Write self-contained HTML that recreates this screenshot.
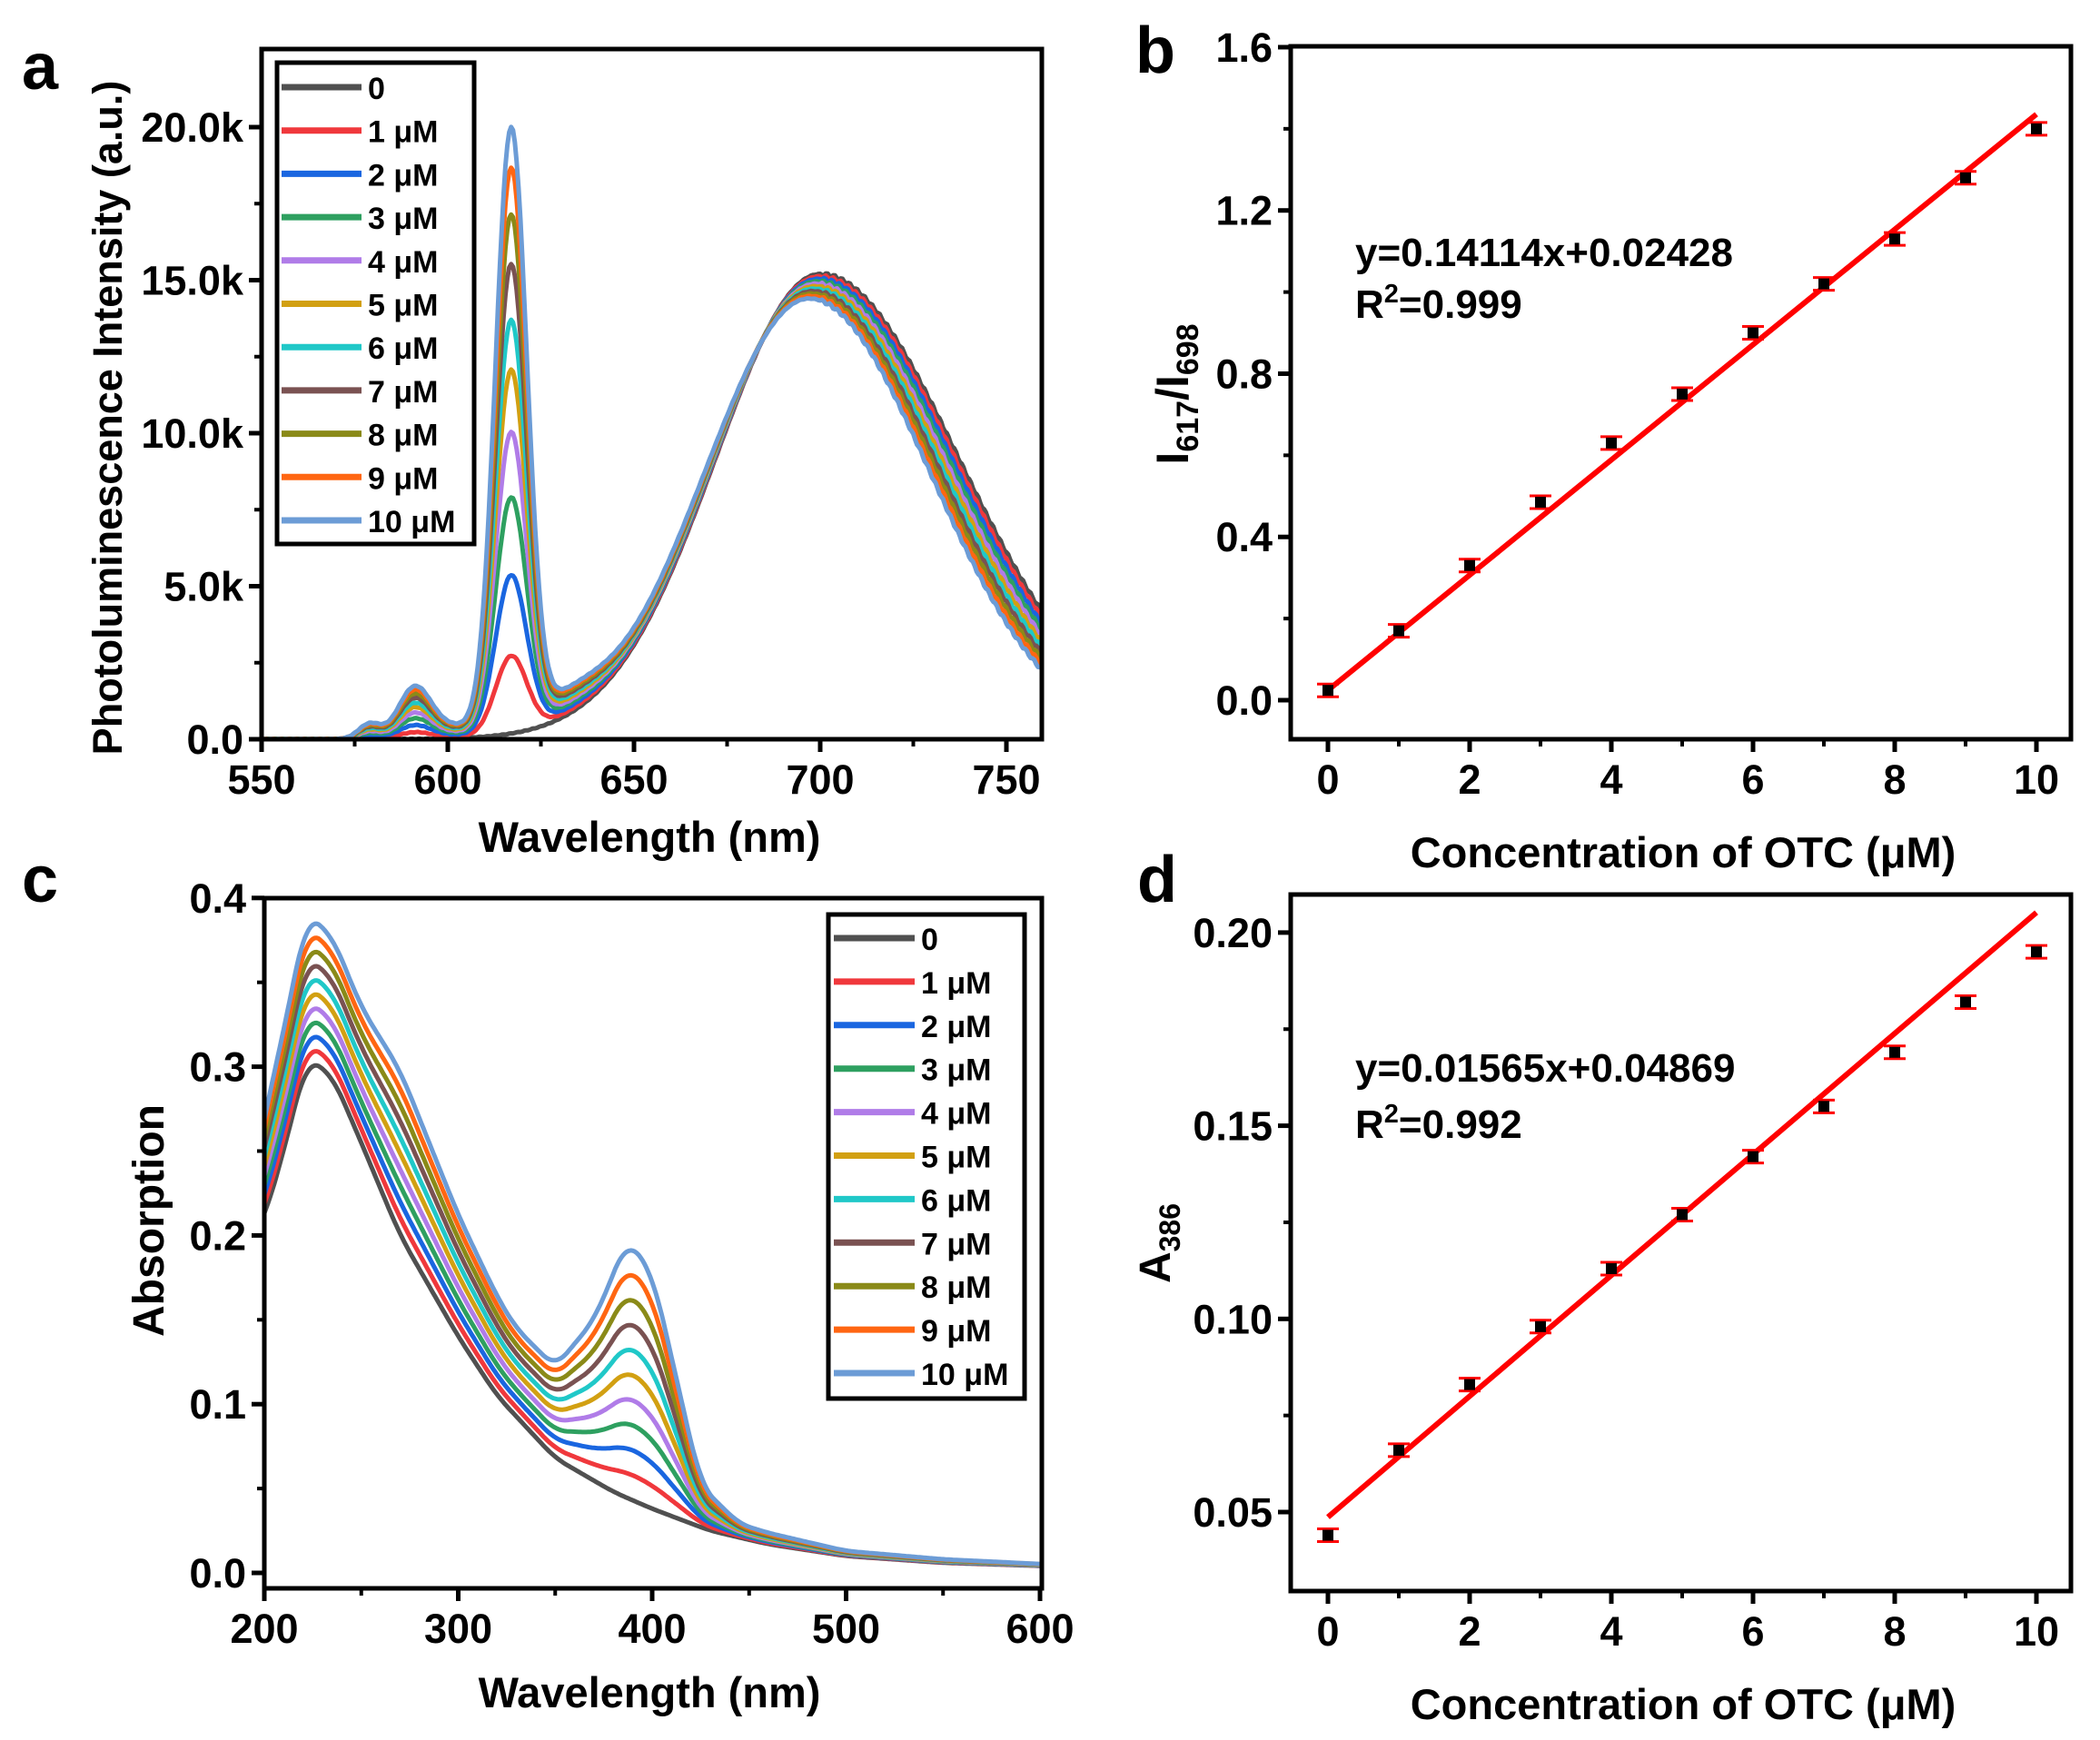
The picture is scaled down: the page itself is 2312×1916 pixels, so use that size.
<!DOCTYPE html>
<html><head><meta charset="utf-8"><style>
html,body{margin:0;padding:0;background:#fff}
svg{display:block}
text{font-family:"Liberation Sans",Arial,sans-serif;font-weight:bold;fill:#000}
</style></head><body>
<svg id="s" xmlns="http://www.w3.org/2000/svg" width="2312" height="1916" viewBox="0 0 2312 1916">
<rect width="2312" height="1916" fill="#fff"/>
<text x="24" y="98" font-size="72">a</text>
<text x="1250" y="80" font-size="72">b</text>
<text x="24" y="993" font-size="72">c</text>
<text x="1252" y="993" font-size="72">d</text>
<text x="715" y="938" font-size="47" text-anchor="middle">Wavelength (nm)</text>
<text x="715" y="1880" font-size="47" text-anchor="middle">Wavelength (nm)</text>
<text x="1853" y="955" font-size="47" text-anchor="middle">Concentration of OTC (μM)</text>
<text x="1853" y="1893" font-size="47" text-anchor="middle">Concentration of OTC (μM)</text>
<text transform="translate(134,460) rotate(-90)" font-size="45" text-anchor="middle">Photoluminescence  Intensity (a.u.)</text>
<text transform="translate(180,1344) rotate(-90)" font-size="48" text-anchor="middle">Absorption</text>
<text transform="translate(1308,434) rotate(-90)" font-size="50" text-anchor="middle">I<tspan font-size="34" dy="11">617</tspan><tspan dy="-11">/I</tspan><tspan font-size="34" dy="11">698</tspan></text>
<text transform="translate(1288,1369) rotate(-90)" font-size="48" text-anchor="middle">A<tspan font-size="32" dy="11">386</tspan></text>
<text x="1492" y="293" font-size="44">y=0.14114x+0.02428</text>
<text x="1492" y="350" font-size="44">R<tspan font-size="29" dy="-17">2</tspan><tspan dy="17">=0.999</tspan></text>
<text x="1492" y="1191" font-size="44">y=0.01565x+0.04869</text>
<text x="1492" y="1253" font-size="44">R<tspan font-size="29" dy="-17">2</tspan><tspan dy="17">=0.992</tspan></text>
<defs>
<clipPath id="ca"><rect x="288" y="54" width="859" height="760"/></clipPath>
<clipPath id="cc"><rect x="291" y="989" width="856" height="760"/></clipPath>
</defs>
<g id="g"></g>
</svg>
<script>
const NS="http://www.w3.org/2000/svg",G=document.getElementById('g');
function el(t,a,p){const e=document.createElementNS(NS,t);for(const k in a)e.setAttribute(k,a[k]);(p||G).appendChild(e);return e;}
function txt(x,y,s,fs,anc){const e=el('text',{x:x,y:y,'font-size':fs,'text-anchor':anc||'middle'});e.textContent=s;return e;}
const cols=['#505050','#f0383c','#1a66e0','#2ea060','#b07ce8','#d2a012','#20c8c8','#7a5252','#8a8a18','#ff6612','#6c9cd6'];
const labs=['0','1 μM','2 μM','3 μM','4 μM','5 μM','6 μM','7 μM','8 μM','9 μM','10 μM'];
function frame(L,T,R,B){el('rect',{x:L,y:T,width:R-L,height:B-T,fill:'none',stroke:'#000','stroke-width':5});}
function xt(X,B,vals,minor,fmt){vals.forEach(v=>{el('line',{x1:X(v),x2:X(v),y1:B,y2:B+14,stroke:'#000','stroke-width':5});txt(X(v),B+60,fmt(v),45);});
 minor.forEach(v=>el('line',{x1:X(v),x2:X(v),y1:B,y2:B+8,stroke:'#000','stroke-width':4}));}
function yt(Y,L,vals,minor,fmt){vals.forEach(v=>{el('line',{x1:L-14,x2:L,y1:Y(v),y2:Y(v),stroke:'#000','stroke-width':5});txt(L-20,Y(v)+16,fmt(v),45,'end');});
 minor.forEach(v=>el('line',{x1:L-8,x2:L,y1:Y(v),y2:Y(v),stroke:'#000','stroke-width':4}));}
function path(pts,col,w,clip){let d='';pts.forEach((p,i)=>d+=(i?'L':'M')+p[0].toFixed(1)+' '+p[1].toFixed(1));const a={d:d,fill:'none',stroke:col,'stroke-width':w,'stroke-linejoin':'round'};if(clip)a['clip-path']='url(#'+clip+')';el('path',a);}
function gs(x,m,s){return Math.exp(-(x-m)*(x-m)/(2*s*s));}
// Panel a
{const X=v=>288+(v-550)*4.1,Y=v=>814-v*0.0337;
 const pk=[0,2.5,5.1,7.6,9.7,11.7,13.3,15.1,16.7,18.2,19.5];
 for(let c=0;c<=10;c++){const pts=[];const A=15.2-0.08*c,m=700-0.3*c,sR=37-0.45*c;
  for(let l=548;l<=762;l+=0.5){let b=A*(l<m?gs(l,m,28):gs(l,m,sR));
   let p=pk[c];let v=b+p*gs(l,617,4.2)+0.078*p*gs(l,591,4.3)+0.025*p*gs(l,579,3)+0.035*p*gs(l,632,10);
   if(c>0&&l>575)v+=0.02*p*gs(l,600,8);
   if(l>710)v-=0.25*(c%3)*gs(l,712,3)*0;
   v+=0.05*Math.sin(l*3.1+c)*(l>700?1:0.2);
   pts.push([X(l),Y(v*1000)]);}
  path(pts,cols[c],5,'ca');}
 frame(288,54,1147,814);
 xt(X,814,[550,600,650,700,750],[575,625,675,725],v=>v);
 yt(Y,288,[0,5000,10000,15000,20000],[2500,7500,12500,17500],v=>v?(v/1000).toFixed(1)+'k':'0.0');
 el('rect',{x:305,y:69,width:217,height:530,fill:'#fff',stroke:'#000','stroke-width':5});
 for(let i=0;i<=10;i++){const y=96+i*47.7;el('line',{x1:310,x2:398,y1:y,y2:y,stroke:cols[i],'stroke-width':7});txt(405,y+13,labs[i],34,'start');}
}
// Panel c
{const X=v=>291+(v-200)*2.135,Y=v=>1732-v*1858;
 const bn=[[195,0.2],[200,0.21],[210,0.25],[222,0.305],[235,0.295],[250,0.255],[270,0.2],[290,0.16],[300,0.14],[320,0.105],[350,0.068],[380,0.048],[400,0.038],[430,0.025],[460,0.017],[500,0.01],[550,0.006],[605,0.004]];
 const an=[[195,0.004],[200,0.006],[222,0.0085],[250,0.008],[270,0.0098],[300,0.0072],[330,0.0052],[350,0.0054],[370,0.0095],[387,0.0153],[400,0.014],[412,0.0085],[425,0.0025],[445,0.0008],[500,0.0003],[605,0.0001]];
 function ip(n,x){for(let i=1;i<n.length;i++)if(x<=n[i][0]){const t=(x-n[i-1][0])/(n[i][0]-n[i-1][0]);return n[i-1][1]+t*(n[i][1]-n[i-1][1]);}return n[n.length-1][1];}
 function sm(n,x){let s=0,k=0;for(let d=-6;d<=6;d++){s+=ip(n,x+d);k++;}return s/k;}
 for(let c=0;c<=10;c++){const pts=[];for(let l=198;l<=602;l+=1){let v=sm(bn,l)+c*sm(an,l);pts.push([X(l),Y(v)]);}path(pts,cols[c],5,'cc');}
 frame(291,989,1147,1749);
 xt(X,1749,[200,300,400,500,600],[250,350,450,550],v=>v);
 yt(Y,291,[0,0.1,0.2,0.3,0.4],[0.05,0.15,0.25,0.35],v=>v.toFixed(1));
 el('rect',{x:912,y:1007,width:216,height:533,fill:'#fff',stroke:'#000','stroke-width':5});
 for(let i=0;i<=10;i++){const y=1033+i*47.9;el('line',{x1:918,x2:1007,y1:y,y2:y,stroke:cols[i],'stroke-width':7});txt(1014,y+13,labs[i],34,'start');}
}
function lin(X,Y,pts,a,b,eb){el('line',{x1:X(0),y1:Y(b),x2:X(10),y2:Y(a*10+b),stroke:'#f00','stroke-width':6});
 pts.forEach((v,i)=>{const x=X(i),y=Y(v);el('line',{x1:x,x2:x,y1:y-eb,y2:y+eb,stroke:'#f00','stroke-width':3});
  el('line',{x1:x-12,x2:x+12,y1:y-eb,y2:y-eb,stroke:'#f00','stroke-width':3});el('line',{x1:x-12,x2:x+12,y1:y+eb,y2:y+eb,stroke:'#f00','stroke-width':3});
  el('rect',{x:x-6,y:y-6,width:12,height:12,fill:'#000'});});}
// Panel b
{const X=v=>1462+v*78,Y=v=>771-v*449.4;
 frame(1421,51,2280,814);
 lin(X,Y,[0.024,0.17,0.33,0.485,0.63,0.75,0.90,1.02,1.13,1.28,1.40],0.14114,0.02428,7);
 xt(X,814,[0,2,4,6,8,10],[1,3,5,7,9],v=>v);
 yt(Y,1421,[0,0.4,0.8,1.2,1.6],[0.2,0.6,1.0,1.4],v=>v.toFixed(1));}
// Panel d
{const X=v=>1462+v*78,Y=v=>1665-(v-0.05)*4254;
 frame(1421,985,2280,1752);
 lin(X,Y,[0.044,0.066,0.083,0.098,0.113,0.127,0.142,0.155,0.169,0.182,0.195],0.01565,0.04869,7);
 xt(X,1752,[0,2,4,6,8,10],[1,3,5,7,9],v=>v);
 yt(Y,1421,[0.05,0.1,0.15,0.2],[0.075,0.125,0.175],v=>v.toFixed(2));}
</script>
</body></html>
